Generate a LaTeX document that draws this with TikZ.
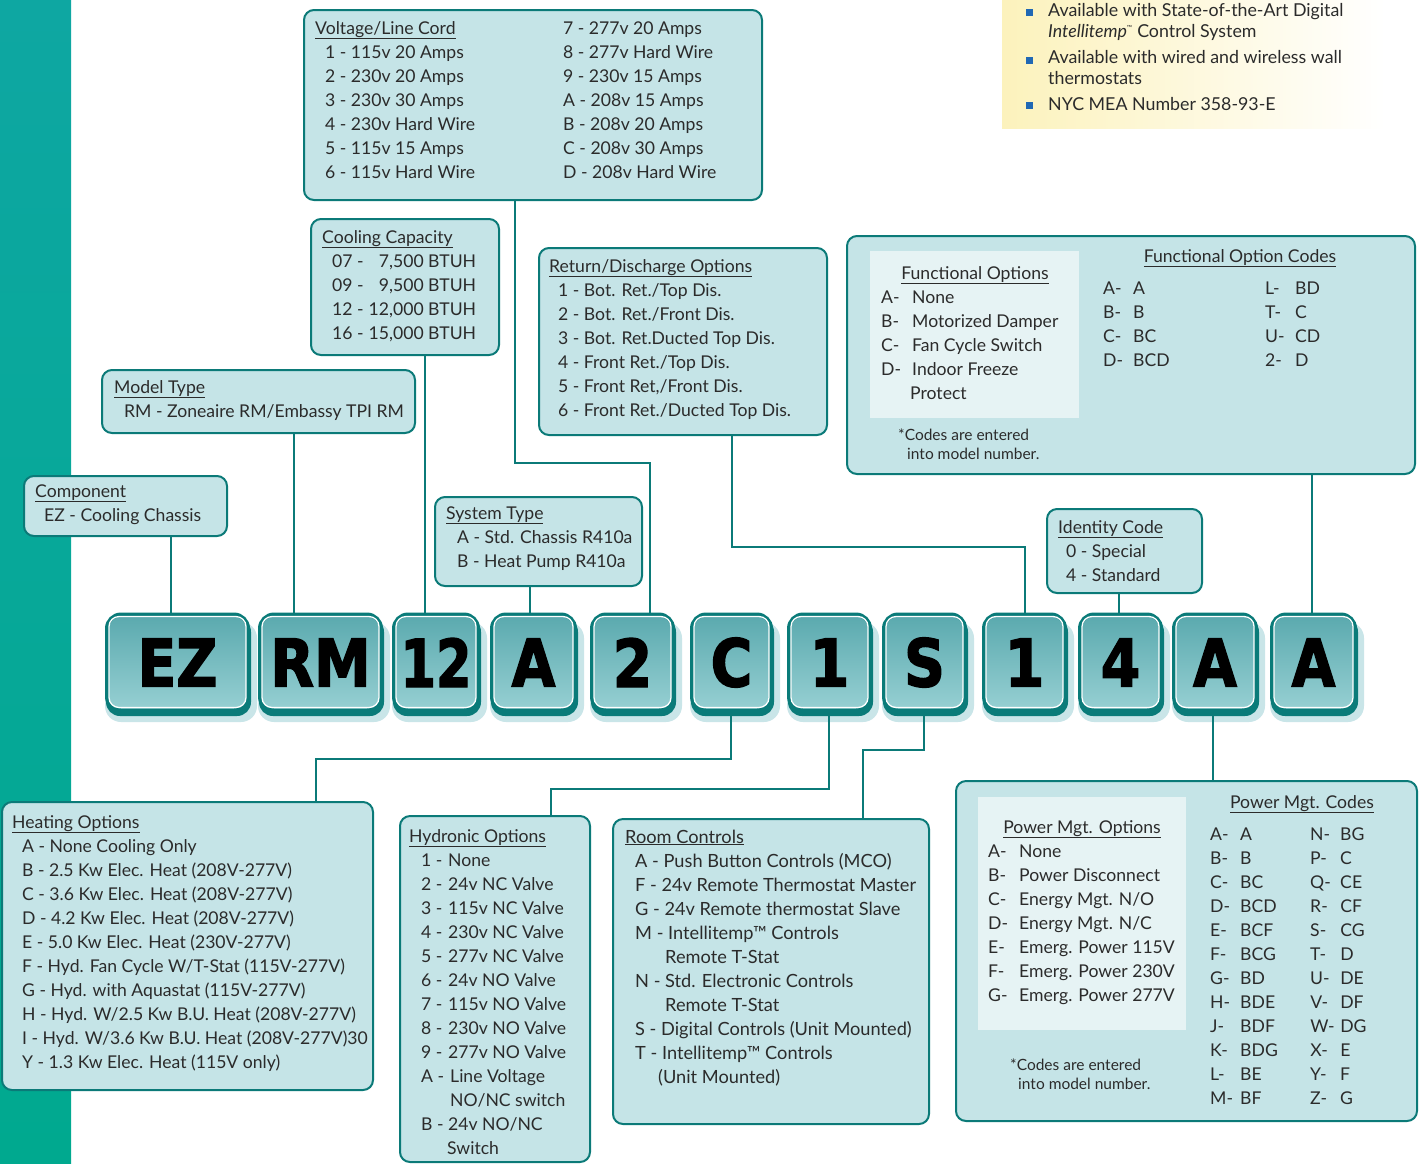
\documentclass[tikz,border=0pt]{standalone}
\usepackage{fontspec}
\setmainfont{Lato}
\newfontfamily\tilefont{DejaVu Sans}[FakeStretch=0.86, FakeBold=2]
\usetikzlibrary{calc}
\definecolor{boxfill}{HTML}{C5E4E7}
\definecolor{innerfill}{HTML}{E6F3F4}
\definecolor{boxline}{HTML}{0B7A78}
\definecolor{ink}{HTML}{2B2B2B}
\definecolor{tiledark}{HTML}{0A7B79}
\definecolor{tiletop}{HTML}{5AA9AE}
\definecolor{tilebot}{HTML}{97D0D3}
\definecolor{striptop}{HTML}{0EA7A2}
\definecolor{stripbot}{HTML}{00A98F}
\definecolor{bullet}{HTML}{2068B4}
\definecolor{yel}{HTML}{FCF2BC}
\definecolor{tileshadow}{HTML}{C9E5E8}
\newcommand\hd[1]{\underline{#1}}
\newcommand\lb[2]{\makebox[#1][l]{#2}}
\begin{document}
\begin{tikzpicture}[x=1pt,y=-1pt,
  box/.style={draw=boxline, line width=2pt, fill=boxfill, rounded corners=10pt, anchor=north west, inner sep=0pt},
  innerbox/.style={fill=innerfill, draw=none, anchor=north west, inner sep=0pt},
  txt/.style={anchor=base west, inner sep=0pt, text=ink, font=\fontsize{17.6}{24}\selectfont},
  foot/.style={anchor=base west, inner sep=0pt, text=ink, font=\fontsize{15.5}{19}\selectfont},
  ytxt/.style={anchor=base west, inner sep=0pt, text=ink, font=\fontsize{17.8}{21}\selectfont},
  link/.style={draw=boxline, line width=2.5pt},
  tile/.style={draw=tiledark, line width=4pt, rounded corners=14pt, top color=tiletop, bottom color=tilebot,
    minimum height=96pt, inner sep=0pt},
  tiletxt/.style={text=black, inner sep=0pt, font=\tilefont\bfseries\fontsize{66}{66}\selectfont},
]
\useasboundingbox (0,0) rectangle (1420,1163);
\fill[white] (0,0) rectangle (1420,1163);
% left strip
\shade[top color=striptop, bottom color=stripbot] (0,0) rectangle (71,1163);
% yellow note
\shade[left color=yel, right color=white] (1002,0) rectangle (1385,128);
\node[fill=bullet, minimum size=7pt, inner sep=0pt] (b1) at (1029,12) {};
\node[fill=bullet, minimum size=7pt, inner sep=0pt] (b2) at (1029,60) {};
\node[fill=bullet, minimum size=7pt, inner sep=0pt] (b3) at (1029,105) {};
\node[ytxt] (y1) at (1048,16) {\begin{tabular}[t]{@{}l@{}}Available with State-of-the-Art Digital\\ \textit{Intellitemp}\textsuperscript{\scriptsize ™} Control System\end{tabular}};
\node[ytxt] (y2) at (1048,63) {\begin{tabular}[t]{@{}l@{}}Available with wired and wireless wall\\ thermostats\end{tabular}};
\node[ytxt] (y3) at (1048,110) {NYC MEA Number 358-93-E};

% tiles
\foreach \n/\cx/\w in {1/177.5/141, 2/320.5/121, 3/436/84, 4/533.5/83, 5/632.5/81, 6/731.5/79, 7/829.5/81, 8/924.5/81, 9/1024.5/81, 10/1120.5/81, 11/1215/82, 12/1313.5/83}{
  \fill[tileshadow, rounded corners=16pt] (\cx-\w/2-2, 622) rectangle (\cx+\w/2+9, 722);
  \fill[tiledark, rounded corners=14pt] (\cx-\w/2-1, 618) rectangle (\cx+\w/2+3, 716);
  \node[tile, minimum width=\w pt] (t\n) at (\cx,662.5) {};
  \draw[white, line width=1.3pt, rounded corners=10pt] ([shift={(4,4)}]t\n.north west) rectangle ([shift={(-4,-5)}]t\n.south east);
}
\foreach \n/\l in {1/EZ, 2/RM, 3/\scalebox{0.9}[1]{12}, 4/A, 5/2, 6/C, 7/1, 8/S, 9/1, 10/4, 11/A, 12/A}{
  \node[tiletxt] (L\n) at (t\n.center) {\l};
}

% boxes
\node[box, minimum width=458pt, minimum height=190pt] (volt) at (303,9) {};
\node[box, minimum width=188pt, minimum height=136pt] (cool) at (310,218) {};
\node[box, minimum width=313pt, minimum height=63pt] (model) at (101,369) {};
\node[box, minimum width=203pt, minimum height=60pt] (comp) at (23,475) {};
\node[box, minimum width=207pt, minimum height=89pt] (sys) at (434,496) {};
\node[box, minimum width=288pt, minimum height=187pt] (ret) at (538,247) {};
\node[box, minimum width=568pt, minimum height=238pt] (func) at (846,235) {};
\node[innerbox, minimum width=209pt, minimum height=167pt] (funcin) at (870,251) {};
\node[box, minimum width=155pt, minimum height=84pt] (ident) at (1046,508) {};
\node[box, minimum width=371pt, minimum height=288pt] (heat) at (1,801) {};
\node[box, minimum width=190pt, minimum height=346pt] (hyd) at (399,815) {};
\node[box, minimum width=316pt, minimum height=305pt] (room) at (612,818) {};
\node[box, minimum width=461pt, minimum height=340pt] (pwr) at (955,780) {};
\node[innerbox, minimum width=208pt, minimum height=233pt] (pwrin) at (978,797) {};

% connectors (top)
\draw[link] (comp.south -| 171,0) -- (t1.north -| 171,0);
\draw[link] (model.south -| 294,0) -- (t2.north -| 294,0);
\draw[link] (cool.south -| 425,0) -- (t3.north -| 425,0);
\draw[link] (volt.south -| 515,0) -- (515,463) -- (650,463) -- (t5.north -| 650,0);
\draw[link] (sys.south -| 530,0) -- (t4.north -| 530,0);
\draw[link] (ret.south -| 732,0) -- (732,547) -- (1025,547) -- (t9.north -| 1025,0);
\draw[link] (ident.south -| 1119,0) -- (t10.north -| 1119,0);
\draw[link] (func.south -| 1312,0) -- (t12.north -| 1312,0);
% connectors (bottom)
\draw[link] (t6.south -| 731,0) -- (731,759) -- (316,759) -- (heat.north -| 316,0);
\draw[link] (t7.south -| 829,0) -- (829,789) -- (551,789) -- (hyd.north -| 551,0);
\draw[link] (t8.south -| 924,0) -- (924,750) -- (863,750) -- (room.north -| 863,0);
\draw[link] (t11.south -| 1213,0) -- (pwr.north -| 1213,0);

% texts
\node[txt] (voltA) at (315,34) {\begin{tabular}[t]{@{}l@{}}\hd{Voltage/Line Cord}\\
 \hspace{10pt}1 - 115v 20 Amps\\ \hspace{10pt}2 - 230v 20 Amps\\ \hspace{10pt}3 - 230v 30 Amps\\
 \hspace{10pt}4 - 230v Hard Wire\\ \hspace{10pt}5 - 115v 15 Amps\\ \hspace{10pt}6 - 115v Hard Wire\end{tabular}};
\node[txt] (voltB) at (563,34) {\begin{tabular}[t]{@{}l@{}}7 - 277v 20 Amps\\ 8 - 277v Hard Wire\\ 9 - 230v 15 Amps\\
 A - 208v 15 Amps\\ B - 208v 20 Amps\\ C - 208v 30 Amps\\ D - 208v Hard Wire\end{tabular}};

\node[txt] (coolT) at (322,243) {\begin{tabular}[t]{@{}l@{\hspace{5pt}}r@{}}\multicolumn{2}{@{}l@{}}{\hd{Cooling Capacity}}\\
 \hspace{10pt}07 - & 7,500 BTUH\\ \hspace{10pt}09 - & 9,500 BTUH\\ \hspace{10pt}12 - & 12,000 BTUH\\ \hspace{10pt}16 - & 15,000 BTUH\end{tabular}};

\node[txt] (modelT) at (114,393) {\begin{tabular}[t]{@{}l@{}}\hd{Model Type}\\ \hspace{10pt}RM - Zoneaire RM/Embassy TPI RM\end{tabular}};
\node[txt] (compT) at (35,497) {\begin{tabular}[t]{@{}l@{}}\hd{Component}\\ \hspace{9pt}EZ - Cooling Chassis\end{tabular}};
\node[txt] (sysT) at (446,519) {\begin{tabular}[t]{@{}l@{}}\hd{System Type}\\ \hspace{11pt}A - Std. Chassis R410a\\ \hspace{11pt}B - Heat Pump R410a\end{tabular}};
\node[txt] (retT) at (549,272) {\begin{tabular}[t]{@{}l@{}}\hd{Return/Discharge Options}\\
 \hspace{9pt}1 - Bot. Ret./Top Dis.\\ \hspace{9pt}2 - Bot. Ret./Front Dis.\\ \hspace{9pt}3 - Bot. Ret.Ducted Top Dis.\\
 \hspace{9pt}4 - Front Ret./Top Dis.\\ \hspace{9pt}5 - Front Ret,/Front Dis.\\ \hspace{9pt}6 - Front Ret./Ducted Top Dis.\end{tabular}};

% functional
\node[txt, anchor=base] (funcinT) at (975,279) {\hd{Functional Options}};
\node[txt] (funcinL) at (881,303) {\begin{tabular}[t]{@{}l@{}}\lb{31pt}{A-}None\\ \lb{31pt}{B-}Motorized Damper\\
 \lb{31pt}{C-}Fan Cycle Switch\\ \lb{31pt}{D-}Indoor Freeze\\ \lb{29pt}{}Protect\end{tabular}};
\node[foot] (funcF) at (898,440) {\begin{tabular}[t]{@{}l@{}}*Codes are entered\\ \hspace{9pt}into model number.\end{tabular}};
\node[txt, anchor=base] (funcCT) at (1240,262) {\hd{Functional Option Codes}};
\node[txt] (funcC) at (1103,294) {\begin{tabular}[t]{@{}l@{}}\lb{30pt}{A-}\lb{132pt}{A}\lb{30pt}{L-}BD\\
 \lb{30pt}{B-}\lb{132pt}{B}\lb{30pt}{T-}C\\ \lb{30pt}{C-}\lb{132pt}{BC}\lb{30pt}{U-}CD\\
 \lb{30pt}{D-}\lb{132pt}{BCD}\lb{30pt}{2-}D\end{tabular}};

\node[txt] (identT) at (1058,533) {\begin{tabular}[t]{@{}l@{}}\hd{Identity Code}\\ \hspace{8pt}0 - Special\\ \hspace{8pt}4 - Standard\end{tabular}};

\node[txt] (heatT) at (12,828) {\begin{tabular}[t]{@{}l@{}}\hd{Heating Options}\\
 \hspace{10pt}A - None Cooling Only\\ \hspace{10pt}B - 2.5 Kw Elec. Heat (208V-277V)\\
 \hspace{10pt}C - 3.6 Kw Elec. Heat (208V-277V)\\ \hspace{10pt}D - 4.2 Kw Elec. Heat (208V-277V)\\
 \hspace{10pt}E - 5.0 Kw Elec. Heat (230V-277V)\\ \hspace{10pt}F - Hyd. Fan Cycle W/T-Stat (115V-277V)\\
 \hspace{10pt}G - Hyd. with Aquastat (115V-277V)\\ \hspace{10pt}H - Hyd. W/2.5 Kw B.U. Heat (208V-277V)\\
 \hspace{10pt}I - Hyd. W/3.6 Kw B.U. Heat (208V-277V)30\\ \hspace{10pt}Y - 1.3 Kw Elec. Heat (115V only)\end{tabular}};

\node[txt] (hydT) at (409,842) {\begin{tabular}[t]{@{}l@{}}\hd{Hydronic Options}\\
 \hspace{12pt}\lb{27pt}{1 -}None\\ \hspace{12pt}\lb{27pt}{2 -}24v NC Valve\\ \hspace{12pt}\lb{27pt}{3 -}115v NC Valve\\
 \hspace{12pt}\lb{27pt}{4 -}230v NC Valve\\ \hspace{12pt}\lb{27pt}{5 -}277v NC Valve\\ \hspace{12pt}\lb{27pt}{6 -}24v NO Valve\\
 \hspace{12pt}\lb{27pt}{7 -}115v NO Valve\\ \hspace{12pt}\lb{27pt}{8 -}230v NO Valve\\ \hspace{12pt}\lb{27pt}{9 -}277v NO Valve\\
 \hspace{12pt}\lb{29pt}{A -}Line Voltage\\ \hspace{12pt}\lb{29pt}{}NO/NC switch\\
 \hspace{12pt}\lb{27pt}{B -}24v NO/NC\\ \hspace{12pt}\lb{26pt}{}Switch\end{tabular}};

\node[txt, font=\fontsize{18.2}{24}\selectfont] (roomT) at (625,843) {\begin{tabular}[t]{@{}l@{}}\hd{Room Controls}\\
 \hspace{10pt}A - Push Button Controls (MCO)\\ \hspace{10pt}F - 24v Remote Thermostat Master\\
 \hspace{10pt}G - 24v Remote thermostat Slave\\ \hspace{10pt}M - Intellitemp™ Controls\\
 \hspace{10pt}\lb{30pt}{}Remote T-Stat\\ \hspace{10pt}N - Std. Electronic Controls\\
 \hspace{10pt}\lb{30pt}{}Remote T-Stat\\ \hspace{10pt}S - Digital Controls (Unit Mounted)\\
 \hspace{10pt}T - Intellitemp™ Controls\\ \hspace{10pt}\lb{23pt}{}(Unit Mounted)\end{tabular}};

% power mgt
\node[txt, anchor=base] (pwrinT) at (1082,833) {\hd{Power Mgt. Options}};
\node[txt] (pwrinL) at (988,857) {\begin{tabular}[t]{@{}l@{}}\lb{31pt}{A-}None\\ \lb{31pt}{B-}Power Disconnect\\
 \lb{31pt}{C-}Energy Mgt. N/O\\ \lb{31pt}{D-}Energy Mgt. N/C\\ \lb{31pt}{E-}Emerg. Power 115V\\
 \lb{31pt}{F-}Emerg. Power 230V\\ \lb{31pt}{G-}Emerg. Power 277V\end{tabular}};
\node[foot] (pwrF) at (1010,1070) {\begin{tabular}[t]{@{}l@{}}*Codes are entered\\ \hspace{8pt}into model number.\end{tabular}};
\node[txt, anchor=base] (pwrCT) at (1302,808) {\hd{Power Mgt. Codes}};
\node[txt] (pwrC) at (1210,840) {\begin{tabular}[t]{@{}l@{}}\lb{30pt}{A-}\lb{70pt}{A}\lb{30pt}{N-}BG\\
 \lb{30pt}{B-}\lb{70pt}{B}\lb{30pt}{P-}C\\ \lb{30pt}{C-}\lb{70pt}{BC}\lb{30pt}{Q-}CE\\
 \lb{30pt}{D-}\lb{70pt}{BCD}\lb{30pt}{R-}CF\\ \lb{30pt}{E-}\lb{70pt}{BCF}\lb{30pt}{S-}CG\\
 \lb{30pt}{F-}\lb{70pt}{BCG}\lb{30pt}{T-}D\\ \lb{30pt}{G-}\lb{70pt}{BD}\lb{30pt}{U-}DE\\
 \lb{30pt}{H-}\lb{70pt}{BDE}\lb{30pt}{V-}DF\\ \lb{30pt}{J-}\lb{70pt}{BDF}\lb{30pt}{W-}DG\\
 \lb{30pt}{K-}\lb{70pt}{BDG}\lb{30pt}{X-}E\\ \lb{30pt}{L-}\lb{70pt}{BE}\lb{30pt}{Y-}F\\
 \lb{30pt}{M-}\lb{70pt}{BF}\lb{30pt}{Z-}G\end{tabular}};
\end{tikzpicture}
\end{document}
